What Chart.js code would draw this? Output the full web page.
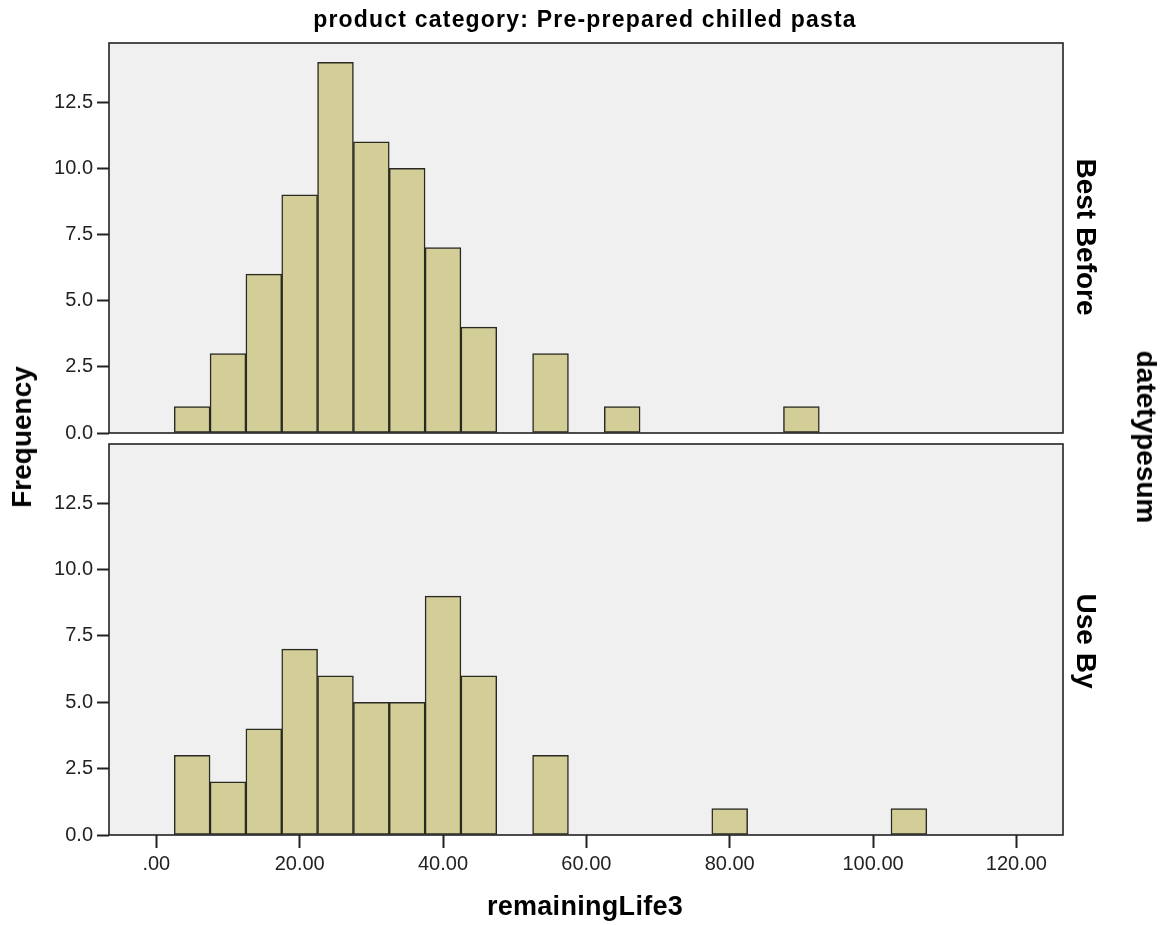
<!DOCTYPE html>
<html>
<head>
<meta charset="utf-8">
<script src="https://cdn.jsdelivr.net/npm/chart.js@4.4.1/dist/chart.umd.min.js"></script>
<style>
  body { margin: 0; background: #fff; }
  #wrap { position: relative; width: 1168px; height: 925px; overflow: hidden; font-family: "Liberation Sans", Arial, sans-serif; }
  canvas { position: absolute; left: 0; }
  .lbl { position: absolute; font-weight: bold; color: #000; white-space: nowrap; line-height: 1; }
  .rot { transform: translate(-50%, -50%) rotate(90deg); }
  .rotl { transform: translate(-50%, -50%) rotate(-90deg); }
  .mid { transform: translate(-50%, -50%); }
</style>
</head>
<body>
<div id="wrap">
  <canvas id="topChart" width="1168" height="440" style="top:0"></canvas>
  <canvas id="botChart" width="1168" height="485" style="top:440px"></canvas>
  <div class="lbl mid" style="left:585px; top:19px; font-size:23px; letter-spacing:1.2px;">product category: Pre-prepared chilled pasta</div>
  <div class="lbl rotl" style="left:22px; top:437px; font-size:28px;">Frequency</div>
  <div class="lbl mid" style="left:585px; top:906px; font-size:27px; letter-spacing:0.3px;">remainingLife3</div>
  <div class="lbl rot" style="left:1086px; top:237px; font-size:28px;">Best Before</div>
  <div class="lbl rot" style="left:1086px; top:641px; font-size:28px;">Use By</div>
  <div class="lbl rot" style="left:1146px; top:437px; font-size:28px;">datetypesum</div>
</div>
<script>
// bin centres (width 5) and counts per panel
var binCenters = [5, 10, 15, 20, 25, 30, 35, 40, 45, 50, 55, 60, 65, 70, 75, 80, 85, 90, 95, 100, 105];
var bestBefore = [1, 3, 6, 9, 14, 11, 10, 7, 4, 0, 3, 0, 1, 0, 0, 0, 0, 1, 0, 0, 0];
var useBy      = [3, 2, 4, 7, 6, 5, 5, 9, 6, 0, 3, 0, 0, 0, 0, 1, 0, 0, 0, 0, 1];

var xTicks = [0, 20, 40, 60, 80, 100, 120];
var yTicks = [0, 2.5, 5, 7.5, 10, 12.5];

var X_MIN = -6.6, X_MAX = 126.5, Y_MAX = 14.73;
var barFill = '#D3CE97';
var barEdge = '#2a2a22';

function toPoints(counts) {
  var pts = [];
  counts.forEach(function (c, i) {
    if (c > 0) pts.push({ x: binCenters[i], y: c });
  });
  return pts;
}

function noPad(s) {
  s.paddingTop = 0; s.paddingBottom = 0; s.paddingLeft = 0; s.paddingRight = 0;
}

var panelPlugin = {
  id: 'panel',
  beforeDatasetsDraw: function (chart) {
    var a = chart.chartArea, ctx = chart.ctx;
    ctx.save();
    ctx.fillStyle = '#F0F0F0';
    ctx.fillRect(a.left, a.top, a.right - a.left, a.bottom - a.top);
    ctx.restore();
  },
  afterDatasetsDraw: function (chart) {
    var a = chart.chartArea, ctx = chart.ctx;
    ctx.save();
    ctx.strokeStyle = '#222';
    ctx.lineWidth = 1.6;
    ctx.strokeRect(a.left, a.top, a.right - a.left, a.bottom - a.top);
    ctx.restore();
  }
};

function makeChart(id, counts, showX, padding) {
  return new Chart(document.getElementById(id).getContext('2d'), {
    type: 'bar',
    data: {
      datasets: [{
        data: toPoints(counts),
        backgroundColor: barFill,
        borderColor: barEdge,
        borderWidth: 1.5,
        borderSkipped: false,
        barPercentage: 1,
        categoryPercentage: 1
      }]
    },
    options: {
      responsive: false,
      animation: false,
      layout: { padding: padding },
      plugins: { legend: { display: false }, tooltip: { enabled: false } },
      scales: {
        x: {
          type: 'linear',
          min: X_MIN,
          max: X_MAX,
          offset: false,
          display: showX,
          afterBuildTicks: function (s) { s.ticks = xTicks.map(function (v) { return { value: v }; }); },
          afterFit: function (s) { noPad(s); if (showX) s.height = 90; },
          border: { display: false },
          grid: { offset: false, drawOnChartArea: false, drawTicks: true, tickLength: 13, tickWidth: 2, color: '#222' },
          ticks: {
            color: '#222',
            padding: 4,
            font: { family: 'Liberation Sans', size: 20 },
            maxRotation: 0,
            callback: function (v) { return v === 0 ? '.00' : v.toFixed(2); }
          }
        },
        y: {
          min: 0,
          max: Y_MAX,
          afterBuildTicks: function (s) { s.ticks = yTicks.map(function (v) { return { value: v }; }); },
          afterFit: function (s) { noPad(s); s.width = 109; },
          border: { display: false },
          grid: { drawOnChartArea: false, drawTicks: true, tickLength: 12, tickWidth: 2, color: '#222' },
          ticks: {
            color: '#222',
            padding: 4,
            font: { family: 'Liberation Sans', size: 20 },
            callback: function (v) { return v.toFixed(1); }
          }
        }
      }
    },
    plugins: [panelPlugin]
  });
}

makeChart('topChart', bestBefore, false, { left: 0, right: 105, top: 43, bottom: 7 });
makeChart('botChart', useBy, true, { left: 0, right: 105, top: 4, bottom: 0 });
</script>
</body>
</html>
